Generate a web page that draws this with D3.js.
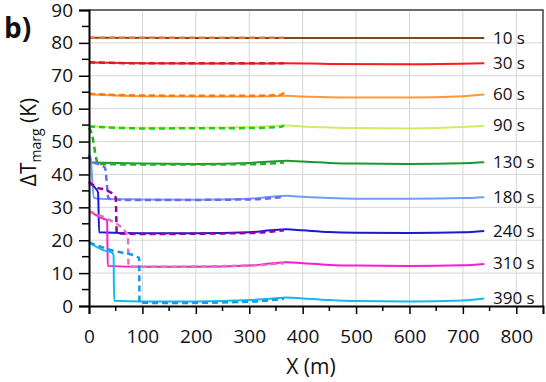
<!DOCTYPE html>
<html>
<head>
<meta charset="utf-8">
<script src="https://cdn.jsdelivr.net/npm/d3@7"></script>
<style>
  body { margin: 0; background: #fff; }
  text { font-family: "Open Sans", "Noto Sans", sans-serif; fill: #111; }
</style>
</head>
<body>
<script>
// time labels of each profile
var times = ["10 s", "30 s", "60 s", "90 s", "130 s", "180 s", "240 s", "310 s", "390 s"];
var solidColors  = ["#7b4a1e", "#ff1a1a", "#ff9933", "#ccee66", "#1a9a2e", "#6e9cff", "#1a1ad0", "#ff1acc", "#11bbee"];
var dashedColors = ["#e07a3c", "#cc2222", "#ff7711", "#22cc22", "#22b022", "#6a6aee", "#990099", "#dd77bb", "#1199ee"];

// solid profiles, [X (m), dT (K)]
var solidLines = [
  [[0,81.6],[200,81.5],[400,81.5],[740,81.5]],
  [[0,74.0],[100,73.8],[200,73.7],[300,73.7],[370,73.8],[450,73.6],[600,73.5],[740,73.8]],
  [[0,64.4],[50,64.0],[100,63.8],[300,63.7],[340,63.8],[370,63.9],[400,63.7],[450,63.5],[500,63.4],[600,63.4],[700,63.8],[740,64.3]],
  [[0,54.7],[50,54.3],[100,54.2],[200,54.2],[300,54.4],[340,54.7],[370,54.9],[400,54.6],[450,54.3],[500,54.1],[600,54.0],[700,54.4],[740,54.8]],
  [[0,43.6],[100,43.3],[200,43.2],[300,43.5],[340,43.9],[370,44.2],[400,43.9],[450,43.5],[500,43.3],[600,43.2],[700,43.4],[740,43.7]],
  [[0,46.2],[3,45],[9,33],[20,32.6],[100,32.4],[200,32.3],[300,32.6],[340,33.2],[370,33.5],[400,33.2],[450,32.8],[500,32.6],[600,32.6],[700,32.8],[740,33.1]],
  [[0,37.7],[12,35.8],[17,34.5],[19,22.4],[100,22.1],[200,22.1],[300,22.4],[340,23],[370,23.3],[400,23],[450,22.5],[500,22.3],[600,22.2],[700,22.4],[740,22.8]],
  [[0,28.8],[26,26.6],[34,26],[35,12.2],[100,11.9],[200,11.9],[300,12.3],[340,12.9],[370,13.3],[400,13],[450,12.5],[500,12.3],[600,12.2],[700,12.4],[740,12.8]],
  [[0,19.3],[26,17],[43,16.2],[46,15.5],[47,1.6],[100,1.4],[200,1.4],[300,1.8],[340,2.2],[370,2.6],[400,2.3],[450,1.8],[500,1.5],[600,1.4],[700,1.7],[740,2.3]]
];

// dashed profiles, [X (m), dT (K)]
var dashedLines = [
  [[0,81.6],[365,81.6]],
  [[0,74.1],[100,73.8],[365,73.8]],
  [[0,64.5],[100,64.0],[300,63.9],[360,64.2],[365,64.9]],
  [[0,54.6],[100,54.0],[300,54.1],[360,54.5],[365,55]],
  [[0,54.2],[5,52.5],[14,44.5],[16,43.2],[100,43.0],[300,43.1],[365,43.6]],
  [[0,46],[3,44],[20,43],[30,42],[33,38],[36,33],[42,32.4],[100,32.2],[300,32.4],[365,33.2]],
  [[0,37.6],[15,36],[33,35.2],[50,33],[52,22.1],[100,21.9],[300,22.2],[365,23]],
  [[0,28.8],[30,26.8],[67,22.8],[73,21.5],[74,12.1],[100,11.9],[300,12.3],[365,13]],
  [[0,19.3],[45,16.8],[90,15],[94,14.5],[94.5,1.0],[150,0.9],[300,1.3],[365,2.2]]
];

var xTicks = [0, 100, 200, 300, 400, 500, 600, 700, 800];
var yTicks = [0, 10, 20, 30, 40, 50, 60, 70, 80, 90];

function draw() {
  var W = 546, H = 382;
  var m = { left: 89, right: 3, top: 10, bottom: 76 };

  var svg = d3.select("body").append("svg")
      .attr("width", W).attr("height", H);

  var x = d3.scaleLinear().domain([0, 850]).range([m.left, W - m.right]);
  var y = d3.scaleLinear().domain([0, 90]).range([H - m.bottom, m.top]);

  // grid
  var grid = svg.append("g").attr("stroke", "#d6d6d6").attr("stroke-width", 1);
  grid.selectAll(".gx").data(xTicks.slice(1)).enter().append("line")
      .attr("x1", d => x(d)).attr("x2", d => x(d))
      .attr("y1", y(0)).attr("y2", y(90));
  grid.selectAll(".gy").data(yTicks.slice(1)).enter().append("line")
      .attr("x1", x(0)).attr("x2", x(850))
      .attr("y1", d => y(d)).attr("y2", d => y(d));

  // frame top / right
  svg.append("path")
      .attr("d", "M" + x(0) + "," + y(90) + "H" + x(850) + "V" + y(0))
      .attr("fill", "none").attr("stroke", "#444").attr("stroke-width", 1.5);

  // lines
  var line = d3.line().x(d => x(d[0])).y(d => y(d[1])).curve(d3.curveMonotoneX);
  var lines = svg.append("g").attr("fill", "none");
  lines.selectAll(".solid").data(solidLines).enter().append("path")
      .attr("d", line)
      .attr("stroke", (d, i) => solidColors[i])
      .attr("stroke-width", 2);
  lines.selectAll(".dash").data(dashedLines).enter().append("path")
      .attr("d", line)
      .attr("stroke", (d, i) => dashedColors[i])
      .attr("stroke-width", 2.5)
      .attr("stroke-dasharray", "6,4");

  // axes
  var xAxis = svg.append("g").attr("transform", "translate(0," + y(0) + ")")
      .call(d3.axisBottom(x).tickValues(xTicks).tickSize(8).tickPadding(16).tickFormat(d3.format("d")));
  xAxis.append("g").selectAll("line").data([50, 150, 250, 350, 450, 550, 650, 750]).enter()
      .append("line").attr("x1", d => x(d)).attr("x2", d => x(d))
      .attr("y1", 0).attr("y2", 5).attr("stroke", "#000").attr("stroke-width", 1.5);

  var yAxis = svg.append("g").attr("transform", "translate(" + x(0) + ",0)")
      .call(d3.axisLeft(y).tickValues(yTicks).tickSize(10).tickPadding(6));
  yAxis.append("g").selectAll("line").data([5, 15, 25, 35, 45, 55, 65, 75, 85]).enter()
      .append("line").attr("y1", d => y(d)).attr("y2", d => y(d))
      .attr("x1", 0).attr("x2", -7).attr("stroke", "#000").attr("stroke-width", 1.5);

  svg.selectAll(".domain").attr("stroke", "#000").attr("stroke-width", 2);
  svg.selectAll(".tick line").attr("stroke", "#000").attr("stroke-width", 1.5);
  svg.selectAll(".tick text").style("font-size", "19px")
      .style("font-family", "'Open Sans', 'Noto Sans', sans-serif").attr("fill", "#111");

  // curve labels
  svg.append("g").selectAll("text").data(times).enter().append("text")
      .attr("x", 493)
      .attr("y", (d, i) => y(solidLines[i][solidLines[i].length - 1][1]) + 1)
      .attr("dominant-baseline", "middle")
      .style("font-size", "17px")
      .text(d => d);

  // axis titles
  svg.append("text").attr("x", 311).attr("y", 374)
      .attr("text-anchor", "middle").style("font-size", "21px").text("X (m)");

  var yt = svg.append("text")
      .attr("transform", "translate(36,142) rotate(-90)")
      .attr("text-anchor", "middle").style("font-size", "21px");
  yt.append("tspan").text("\u0394T");
  yt.append("tspan").attr("dy", 5).style("font-size", "14px").text("marg");
  yt.append("tspan").attr("dy", -5).text(" (K)");

  svg.append("text").attr("x", 4).attr("y", 38)
      .style("font-size", "28px").style("font-weight", "bold").text("b)");
}

window.onload = draw;
</script>
</body>
</html>
